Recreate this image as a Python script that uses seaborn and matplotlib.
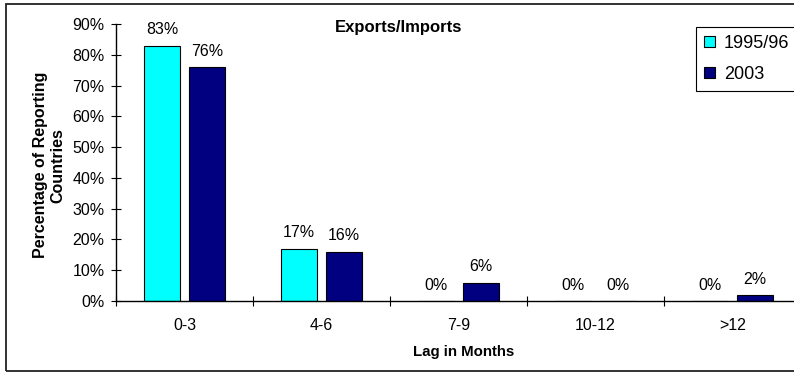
import matplotlib
matplotlib.use("Agg")
import matplotlib.pyplot as plt
import seaborn as sns
import pandas as pd
from matplotlib.patches import Rectangle, Patch
from matplotlib.ticker import FuncFormatter

# Reporting lag groups and the share of countries in each
lag_groups = ["0-3", "4-6", "7-9", "10-12", ">12"]
share_1995_96 = [83, 17, 0, 0, 0]
share_2003 = [76, 16, 6, 0, 2]
series_names = ["1995/96", "2003"]
series_colors = ["#00FFFF", "#000080"]
y_ticks = [0, 10, 20, 30, 40, 50, 60, 70, 80, 90]

df = pd.DataFrame({
    "Lag": lag_groups * 2,
    "Share": share_1995_96 + share_2003,
    "Period": [series_names[0]] * len(lag_groups) + [series_names[1]] * len(lag_groups),
})

sns.set_style("ticks")
plt.rcParams["font.family"] = ["Liberation Sans", "DejaVu Sans"]
plt.rcParams["text.color"] = "black"
plt.rcParams["axes.labelcolor"] = "black"
plt.rcParams["xtick.color"] = "black"
plt.rcParams["ytick.color"] = "black"
plt.rcParams["axes.edgecolor"] = "black"

W, H = 794, 373
fig = plt.figure(figsize=(W / 100, H / 100), dpi=100)
fig.patch.set_facecolor("white")

# outer chart frame
fig.patches.append(Rectangle((6 / W, 2 / H), 1.2, 367 / H,
                             transform=fig.transFigure, fill=False,
                             edgecolor="#222222", linewidth=1.3))

ax = fig.add_axes([116 / W, 1 - 301 / H, 685 / W, 277 / H])
sns.barplot(data=df, x="Lag", y="Share", hue="Period", order=lag_groups,
            hue_order=series_names, palette=series_colors, saturation=1,
            width=0.65, gap=0.18, edgecolor="black", linewidth=0.8,
            errorbar=None, legend=False, ax=ax)

# value labels on each bar
for container, values in zip(ax.containers, [share_1995_96, share_2003]):
    ax.bar_label(container, labels=[f"{v}%" for v in values], padding=6,
                 fontsize=11.5)

ax.set_ylim(0, 90)
ax.set_xlim(-0.5, len(lag_groups) - 0.5)
ax.set_yticks(y_ticks)
ax.yaxis.set_major_formatter(FuncFormatter(lambda v, _: f"{v:.0f}%"))
ax.set_xticks([i - 0.5 for i in range(len(lag_groups) + 1)], minor=True)

ax.tick_params(axis="y", which="major", left=True, direction="inout",
               length=6.5, width=0.8, pad=5, labelsize=11.5)
ax.tick_params(axis="x", which="major", bottom=True, length=0, pad=12,
               labelsize=11.5)
ax.tick_params(axis="x", which="minor", bottom=True, direction="inout",
               length=7, width=0.8)
ax.tick_params(axis="y", which="minor", left=False)

sns.despine(ax=ax)
for side in ("left", "bottom"):
    ax.spines[side].set_linewidth(1.0)
    ax.spines[side].set_color("black")

ax.set_xlabel("Lag in Months", fontweight="bold", fontsize=10.8)
ax.xaxis.set_label_coords(0.507, (301 - 345) / 277)
ax.set_ylabel("Percentage of Reporting\nCountries", fontweight="bold",
              fontsize=11.5, multialignment="center")
ax.yaxis.set_label_coords(-0.074, 0.49)

fig.text(0.502, 1 - 27.5 / H, "Exports/Imports", ha="center", va="center",
         fontweight="bold", fontsize=12)

handles = [Patch(facecolor=c, edgecolor="black", linewidth=0.8) for c in series_colors]
leg = ax.legend(handles, series_names, loc="upper left",
                bbox_to_anchor=(696 / W, 1 - 27 / H), bbox_transform=fig.transFigure,
                frameon=True, fancybox=False, framealpha=1, edgecolor="black",
                fontsize=13, handlelength=0.6, handleheight=0.6,
                handletextpad=0.5, labelspacing=0.75, borderpad=0.45,
                borderaxespad=0)
leg.get_frame().set_linewidth(0.8)

fig.savefig("out.png", dpi=100)
